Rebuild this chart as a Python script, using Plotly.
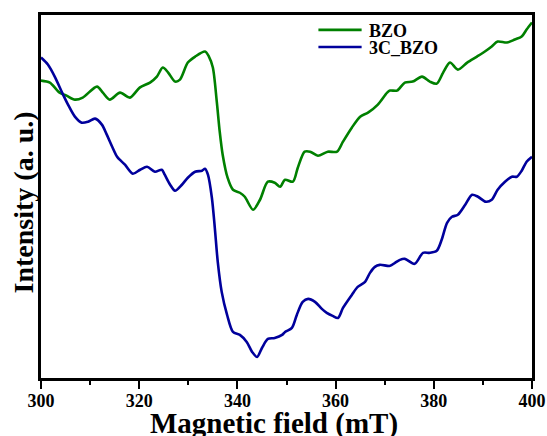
import plotly.graph_objects as go

# ---- data (magnetic field in mT, intensity in arbitrary units) ----
bzo_field = [300.0, 301.8, 303.8, 305.2, 306.9, 308.5, 311.4, 312.6, 314.0, 316.1, 318.1,
             320.1, 322.2, 323.6, 324.8, 325.9, 327.3, 328.3, 329.9, 331.4, 333.4, 334.2,
             335.0, 335.8, 336.4, 337.0, 338.0, 339.1, 340.5, 341.5, 343.2, 344.6, 346.2,
             347.6, 348.7, 349.7, 351.3, 352.3, 353.7, 354.8, 356.4, 358.4, 360.3, 361.5,
             363.3, 365.0, 366.6, 368.6, 370.5, 371.1, 372.5, 374.1, 375.7, 377.6, 379.2,
             380.6, 381.9, 383.3, 384.9, 386.8, 388.8, 390.4, 391.8, 393.0, 394.9, 396.5,
             397.9, 398.9, 400.0]
bzo_int = [29.7, 29.5, 28.5, 28.2, 27.8, 28.0, 29.1, 28.5, 27.8, 28.5, 28.0,
           29.0, 29.5, 30.1, 31.0, 30.5, 29.6, 29.8, 31.5, 32.1, 32.6, 32.1,
           31.0, 27.6, 24.6, 22.3, 20.0, 18.8, 18.5, 18.1, 16.8, 17.8, 19.6,
           19.5, 19.1, 19.8, 19.6, 21.0, 22.6, 22.6, 22.2, 22.6, 22.6, 23.6,
           25.0, 26.1, 26.5, 27.3, 28.5, 28.7, 28.7, 29.5, 29.6, 30.1, 29.6,
           29.4, 30.5, 31.5, 30.8, 31.5, 32.1, 32.6, 33.1, 33.6, 33.5, 33.8,
           34.1, 34.8, 35.5]

c3_field = [300.0, 301.4, 302.9, 304.3, 305.5, 306.9, 308.3, 309.6, 311.0, 312.4, 313.4,
            314.5, 315.5, 317.1, 318.7, 320.2, 321.6, 323.2, 324.6, 325.2, 326.3, 327.3,
            328.7, 329.9, 331.4, 332.8, 333.4, 334.0, 334.8, 335.4, 336.0, 336.8, 337.9,
            339.1, 340.5, 341.9, 343.0, 344.0, 345.0, 346.2, 347.6, 349.1, 349.7, 351.1,
            352.1, 353.3, 354.4, 355.8, 357.2, 358.2, 359.4, 360.5, 361.5, 363.3, 364.5,
            366.0, 367.0, 368.0, 369.0, 371.1, 372.1, 373.1, 374.1, 376.1, 377.8, 379.2,
            380.6, 381.6, 382.7, 383.7, 384.9, 386.4, 387.8, 389.0, 390.6, 391.8, 393.0,
            394.5, 395.9, 396.9, 397.9, 398.9, 400.0]
c3_int = [32.0, 31.3, 30.0, 28.5, 27.3, 26.1, 25.5, 25.6, 25.9, 25.3, 24.3,
          23.1, 22.1, 21.3, 20.4, 20.8, 21.1, 20.6, 20.8, 20.3, 19.3, 18.7,
          19.3, 20.0, 20.6, 20.7, 20.9, 20.3, 18.0, 15.0, 11.6, 8.6, 6.3,
          4.6, 4.3, 3.6, 2.6, 2.1, 3.0, 3.9, 4.0, 4.3, 4.6, 5.0,
          6.3, 7.6, 7.9, 7.6, 6.9, 6.5, 6.2, 6.0, 7.0, 8.3, 9.1,
          9.6, 10.5, 11.1, 11.3, 11.2, 11.5, 11.8, 11.9, 11.4, 12.5, 12.5,
          12.7, 13.8, 15.5, 16.1, 16.3, 17.3, 18.3, 18.1, 17.6, 17.8, 18.8,
          19.6, 20.1, 20.1, 20.7, 21.6, 22.1]

series_names = ["BZO", "3C_BZO"]
x_ticks = [300, 320, 340, 360, 380, 400]
x_title = "Magnetic field (mT)"
y_title = "Intensity (a. u.)"

GREEN = "#008000"
BLUE = "#00009c"
FONT = "Liberation Serif"

fig = go.Figure()
fig.add_trace(go.Scatter(x=bzo_field, y=bzo_int, mode="lines", name=series_names[0],
                         line=dict(color=GREEN, width=2.6, shape="spline", smoothing=0.8)))
fig.add_trace(go.Scatter(x=c3_field, y=c3_int, mode="lines", name=series_names[1],
                         line=dict(color=BLUE, width=2.6, shape="spline", smoothing=0.8)))

# manual legend (sample lines + labels) in paper coordinates
leg_line_y = [0.959, 0.912]
leg_text_y = [0.955, 0.908]
for name, col, ly, ty in zip(series_names, [GREEN, BLUE], leg_line_y, leg_text_y):
    fig.add_shape(type="line", xref="paper", yref="paper", x0=0.565, x1=0.653, y0=ly, y1=ly,
                  line=dict(color=col, width=2.6))
    fig.add_annotation(xref="paper", yref="paper", x=0.663, y=ty, text=name,
                       showarrow=False, xanchor="left", yanchor="middle",
                       font=dict(family=FONT, size=18, color="black", weight="bold"))

# axis titles
fig.add_annotation(xref="paper", yref="paper", x=0.474, y=-0.124, text=x_title,
                   showarrow=False, xanchor="center", yanchor="middle",
                   font=dict(family=FONT, size=29, color="black", weight="bold"))
fig.add_annotation(xref="paper", yref="paper", x=-0.035, y=0.483, text=y_title,
                   showarrow=False, xanchor="center", yanchor="middle", textangle=-90,
                   font=dict(family=FONT, size=28, color="black", weight="bold"))

fig.update_layout(
    width=547, height=436,
    margin=dict(l=41, r=15, t=15, b=58, autoexpand=False),
    paper_bgcolor="white", plot_bgcolor="white",
    showlegend=False,
    font=dict(family=FONT, color="black"),
)
fig.update_xaxes(
    automargin=False,
    range=[300, 400], tickvals=x_ticks, ticktext=[str(v) for v in x_ticks],
    ticks="outside", ticklen=8, tickwidth=2, tickcolor="black",
    minor=dict(ticks="outside", ticklen=4, tickwidth=2, tickcolor="black", dtick=10, tick0=300),
    showline=True, linewidth=2.5, linecolor="black", mirror=True,
    showgrid=False, zeroline=False, ticklabelstandoff=-3,
    tickfont=dict(family=FONT, size=18, color="black", weight="bold"),
)
fig.update_yaxes(
    automargin=False,
    range=[0, 36.25], showticklabels=False, ticks="",
    showline=True, linewidth=2.5, linecolor="black", mirror=True,
    showgrid=False, zeroline=False,
)

fig.write_html("out.html", config={"displayModeBar": False},
               post_script="document.body.style.margin='0';document.body.style.padding='0';"
                           "document.body.style.overflow='hidden';")
